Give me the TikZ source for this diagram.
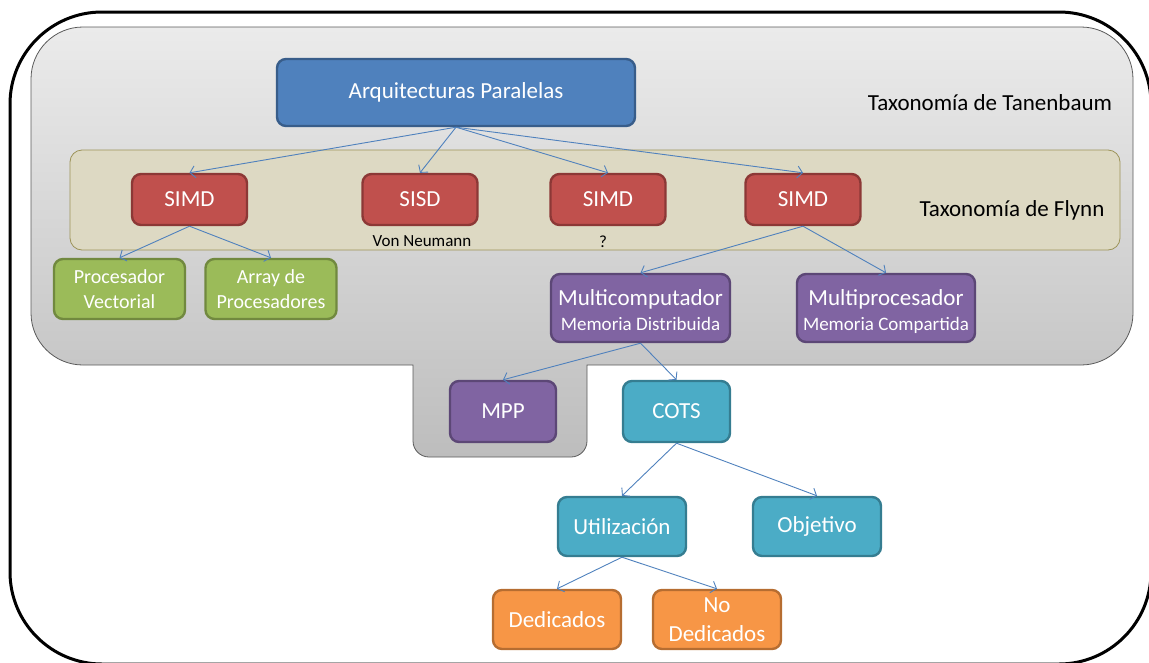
\documentclass[tikz,border=0pt]{standalone}
\usepackage{fontspec}
\setmainfont{Carlito}
\usetikzlibrary{arrows.meta}

\definecolor{bluef}{HTML}{4F81BD}\definecolor{blued}{HTML}{385D8A}
\definecolor{redf}{HTML}{C0504D}\definecolor{redd}{HTML}{8C3836}
\definecolor{greenf}{HTML}{9BBB59}\definecolor{greend}{HTML}{71893F}
\definecolor{purplef}{HTML}{8064A2}\definecolor{purpled}{HTML}{5C4776}
\definecolor{aquaf}{HTML}{4BACC6}\definecolor{aquad}{HTML}{357D91}
\definecolor{orangef}{HTML}{F79646}\definecolor{oranged}{HTML}{B66D31}
\definecolor{beige}{HTML}{DDD9C3}\definecolor{beiged}{HTML}{9C9358}
\definecolor{graytop}{HTML}{EBEBEB}\definecolor{graybot}{HTML}{BDBDBD}
\definecolor{grayline}{HTML}{5A5A5A}
\definecolor{linkc}{HTML}{4F81BD}

\newcommand{\bigtxt}{\fontsize{23}{29}\selectfont}
\newcommand{\midtxt}{\fontsize{20}{25}\selectfont}
\newcommand{\subtxt}{\fontsize{19}{22}\selectfont}
\newcommand{\smalltxt}{\fontsize{17}{19}\selectfont}
\newcommand{\tallline}{\rule{0pt}{26pt}}

\tikzset{
  box/.style={draw, rounded corners=9pt, line width=2.4pt, text=white,
    align=center, inner sep=0pt, font=\bigtxt},
  bluebox/.style={box, fill=bluef, draw=blued, minimum width=358pt, minimum height=67pt},
  redbox/.style={box, fill=redf, draw=redd, minimum width=115pt, minimum height=51pt},
  greenbox/.style={box, fill=greenf, draw=greend, minimum width=131pt, minimum height=60pt, font=\midtxt},
  purplebox/.style={box, fill=purplef, draw=purpled, minimum height=68pt},
  aquabox/.style={box, fill=aquaf, draw=aquad, minimum width=128pt, minimum height=59pt},
  orangebox/.style={box, fill=orangef, draw=oranged, minimum width=128pt, minimum height=59pt},
  link/.style={draw=linkc, line width=0.9pt, -{Straight Barb[length=5pt,width=12pt]}},
  label/.style={text=black, inner sep=0pt},
}

\begin{document}
\begin{tikzpicture}[x=1pt,y=-1pt]
\useasboundingbox (0,0) rectangle (1149,662);

% outer frame, partly running off the page
\begin{scope}
  \clip (0,0) rectangle (1149,662);
  \draw[line width=3pt, rounded corners=92pt] (10,12) rectangle (1151,664);
\end{scope}

% grey Tanenbaum region with its lower tab
\path[draw=grayline, line width=0.8pt, top color=graytop, bottom color=graybot]
  (300,27) [rounded corners=52pt] -- (31,27) -- (31,365) -- (300,365)
  [sharp corners] -- (413,365) -- (413,400)
  [rounded corners=16pt] -- (413,457) -- (587,457) -- (587,400)
  [sharp corners] -- (587,365) -- (700,365)
  [rounded corners=52pt] -- (1133,365) -- (1133,27) -- cycle;

% Flynn band
\draw[fill=beige, draw=beiged, line width=0.8pt, rounded corners=12pt]
  (70,150) rectangle (1120,250);

\node[label, font=\bigtxt] (tanen) at (990,103) {Taxonomía de Tanenbaum};
\node[label, font=\bigtxt] (flynn) at (1012,210) {Taxonomía de Flynn};

% nodes
\node[bluebox] (arq) at (456,92.5) {Arquitecturas Paralelas};

\node[redbox] (simdA) at (189.5,199.5) {SIMD};
\node[redbox] (sisd)  at (420,199.5) {SISD};
\node[redbox] (simdB) at (608,199.5) {SIMD};
\node[redbox] (simdC) at (803,199.5) {SIMD};

\node[label, font=\smalltxt] (vonn) at (422,241) {Von Neumann};
\node[label, font=\smalltxt] (quest) at (603,242) {?};

\node[greenbox] (pvec) at (119.5,289) {Procesador\\Vectorial};
\node[greenbox] (aproc) at (271,289) {Array de\\Procesadores};

\node[purplebox, minimum width=179pt] (mcomp) at (640.5,308)
  {\tallline Multicomputador\\[-4pt]{\subtxt Memoria Distribuida\strut}};
\node[purplebox, minimum width=178pt] (mproc) at (886,308)
  {\tallline Multiprocesador\\[-4pt]{\subtxt Memoria Compartida\strut}};

\node[purplebox, minimum width=106pt, minimum height=61pt] (mpp) at (503,411.5) {MPP};
\node[aquabox, minimum width=107pt, minimum height=61pt] (cots) at (676.5,411.5) {COTS};

\node[aquabox] (util) at (622,526.5) {Utilización};
\node[aquabox] (obj)  at (817,526.5) {Objetivo};

\node[orangebox] (ded)  at (557,619.5) {Dedicados};
\node[orangebox] (nded) at (717,619.5) {No\\Dedicados};

% connectors
\draw[link] (arq.south) -- (simdA.north);
\draw[link] (arq.south) -- (sisd.north);
\draw[link] (arq.south) -- (simdB.north);
\draw[link] (arq.south) -- (simdC.north);
\draw[link] (simdA.south) -- (pvec.north);
\draw[link] (simdA.south) -- (aproc.north);
\draw[link] (simdC.south) -- (mcomp.north);
\draw[link] (simdC.south) -- (mproc.north);
\draw[link] (mcomp.south) -- (mpp.north);
\draw[link] (mcomp.south) -- (cots.north);
\draw[link] (cots.south) -- (util.north);
\draw[link] (cots.south) -- (obj.north);
\draw[link] (util.south) -- (ded.north);
\draw[link] (util.south) -- (nded.north);
\end{tikzpicture}
\end{document}
